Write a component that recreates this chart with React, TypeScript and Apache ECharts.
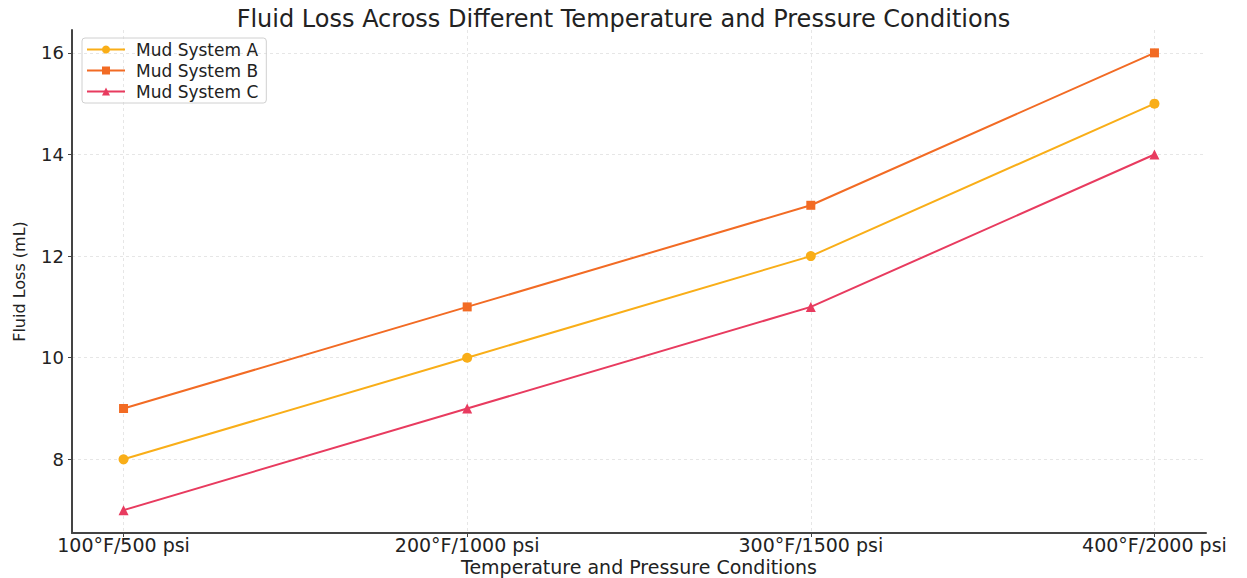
import React, { useEffect, useRef } from "react";
import * as echarts from "echarts";

const categories = ["100°F/500 psi", "200°F/1000 psi", "300°F/1500 psi", "400°F/2000 psi"];
const mudA = [8, 10, 12, 15];
const mudB = [9, 11, 13, 16];
const mudC = [7, 9, 11, 14];
const yTicks = [8, 10, 12, 14, 16];
const xTicks = [0, 1, 2, 3];

const FONT = "DejaVu Sans";

export default function App() {
  const ref = useRef<HTMLDivElement>(null);
  useEffect(() => {
    if (!ref.current) return;
    const chart = echarts.init(ref.current, null, { renderer: "svg" });
    const toPts = (arr: number[]) => arr.map((v, i) => [i, v]);
    const mk = (name: string, data: number[], color: string, symbol: string, size: number) => ({
      name,
      type: "line",
      data: toPts(data),
      symbol,
      symbolSize: size,
      showSymbol: true,
      lineStyle: { color, width: 2 },
      itemStyle: { color },
      z: 3,
    });
    chart.setOption({
      animation: false,
      backgroundColor: "#ffffff",
      textStyle: { fontFamily: FONT },
      title: {
        text: "Fluid Loss Across Different Temperature and Pressure Conditions",
        left: "center",
        top: 2,
        textStyle: { fontFamily: FONT, fontSize: 24, fontWeight: "normal", color: "#222" },
      },
      legend: {
        left: 82,
        top: 38,
        orient: "vertical",
        itemWidth: 38,
        itemHeight: 10,
        itemGap: 4,
        borderColor: "#d0d0d0",
        borderWidth: 1,
        borderRadius: 3,
        padding: [3, 8, 3, 4],
        textStyle: { fontFamily: FONT, fontSize: 17, color: "#222", padding: [0, 0, 0, 6] },
        data: ["Mud System A", "Mud System B", "Mud System C"],
      },
      grid: { left: 72, right: 41, top: 30, bottom: 45, containLabel: false, outerBoundsMode: "none" },
      xAxis: {
        type: "value",
        min: -0.15,
        max: 3.15,
        name: "Temperature and Pressure Conditions",
        nameLocation: "middle",
        nameGap: 24,
        nameMoveOverlap: false,
        nameTextStyle: { fontFamily: FONT, fontSize: 19, color: "#222" },
        axisLine: { show: true, onZero: false, lineStyle: { color: "#444", width: 2 } },
        axisTick: { show: true, customValues: xTicks, length: 4, lineStyle: { color: "#444" } },
        axisLabel: {
          customValues: xTicks,
          formatter: (v: number) => categories[Math.round(v)] ?? "",
          fontFamily: FONT,
          fontSize: 19,
          color: "#222",
          margin: 2,
        },
        splitLine: { show: true, lineStyle: { color: "#e6e6e6", type: [3, 3], width: 1 } },
      },
      yAxis: {
        type: "value",
        min: 6.55,
        max: 16.45,
        name: "Fluid Loss (mL)",
        nameLocation: "middle",
        nameGap: 45,
        nameMoveOverlap: false,
        nameTextStyle: { fontFamily: FONT, fontSize: 16, color: "#222" },
        axisLine: { show: true, onZero: false, lineStyle: { color: "#444", width: 2 } },
        axisTick: { show: true, customValues: yTicks, length: 4, lineStyle: { color: "#444" } },
        axisLabel: {
          customValues: yTicks,
          fontFamily: FONT,
          fontSize: 18,
          color: "#222",
          margin: 8,
        },
        splitLine: { show: true, lineStyle: { color: "#e6e6e6", type: [3, 3], width: 1 } },
      },
      series: [
        mk("Mud System A", mudA, "#f9ae18", "circle", 10),
        mk("Mud System B", mudB, "#f26b24", "rect", 9),
        mk("Mud System C", mudC, "#e83b5f", "triangle", 10),
      ],
    });
    return () => chart.dispose();
  }, []);
  return (
    <div
      ref={ref}
      style={{ position: "fixed", left: 0, top: 0, width: 1247, height: 578, background: "#fff" }}
    />
  );
}
